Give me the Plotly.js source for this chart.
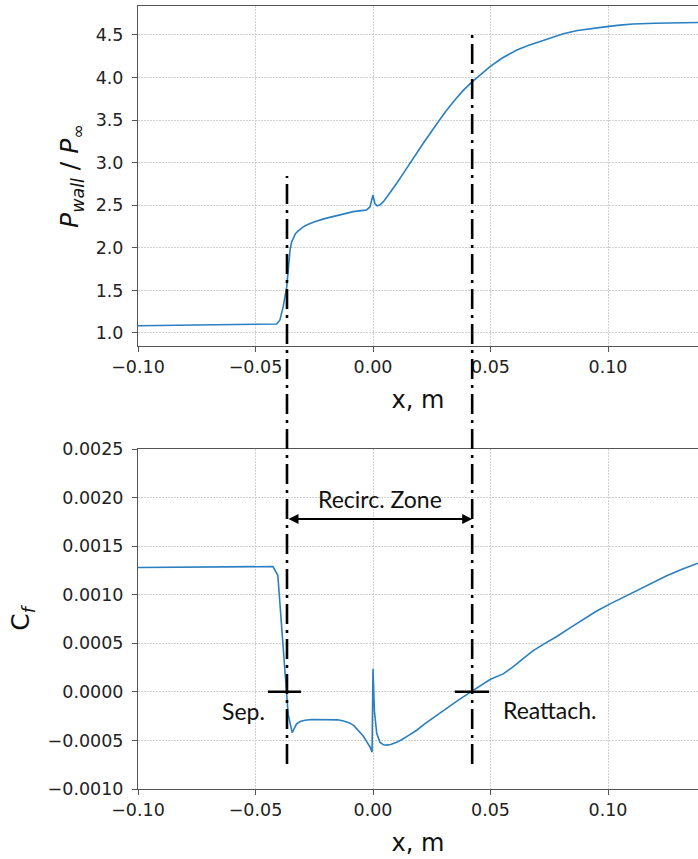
<!DOCTYPE html>
<html>
<head>
<meta charset="utf-8">
<script src="https://cdn.plot.ly/plotly-3.0.1.min.js"></script>
<style>html,body{margin:0;padding:0;background:#fff;}</style>
</head>
<body>
<div id="chart" style="width:698px;height:859px;"></div>
<script>
// ---- data ----
const xP = [-0.100, -0.090, -0.080, -0.070, -0.060, -0.050, -0.044, -0.042, -0.041, -0.0396, -0.0382, -0.0367, -0.0360, -0.0353, -0.0346, -0.0339, -0.0330, -0.0318, -0.0300, -0.0280, -0.0254, -0.0210, -0.0169, -0.0125, -0.0084, -0.0050, -0.0027, -0.0013, 0.0000, 0.0008, 0.0018, 0.0030, 0.0044, 0.0060, 0.0080, 0.0101, 0.0129, 0.0157, 0.0214, 0.0271, 0.0310, 0.0350, 0.0385, 0.0423, 0.0460, 0.0498, 0.0550, 0.0612, 0.0660, 0.0711, 0.0760, 0.0810, 0.0870, 0.0930, 0.0995, 0.1050, 0.1106, 0.1200, 0.1300, 0.1383];
const pRatio = [1.085, 1.088, 1.091, 1.093, 1.095, 1.097, 1.098, 1.100, 1.106, 1.153, 1.310, 1.544, 1.760, 1.975, 2.070, 2.120, 2.165, 2.200, 2.240, 2.270, 2.300, 2.340, 2.370, 2.400, 2.425, 2.437, 2.445, 2.480, 2.620, 2.520, 2.492, 2.505, 2.542, 2.600, 2.675, 2.758, 2.875, 2.993, 3.228, 3.455, 3.605, 3.742, 3.852, 3.952, 4.043, 4.128, 4.229, 4.324, 4.375, 4.421, 4.470, 4.515, 4.552, 4.578, 4.598, 4.615, 4.628, 4.638, 4.643, 4.646];

const xCf = [-0.100, -0.080, -0.060, -0.045, -0.0426, -0.0405, -0.0386, -0.0375, -0.0366, -0.0361, -0.0344, -0.0335, -0.0325, -0.0310, -0.0290, -0.0260, -0.0200, -0.0150, -0.0125, -0.0100, -0.0080, -0.0060, -0.0040, -0.0025, -0.0012, -0.0004, 0.0000, 0.0006, 0.0016, 0.0030, 0.0045, 0.0058, 0.0075, 0.0095, 0.0120, 0.0150, 0.0186, 0.0220, 0.0260, 0.0299, 0.0360, 0.0423, 0.0500, 0.0554, 0.0600, 0.0640, 0.0682, 0.0730, 0.0782, 0.0840, 0.0895, 0.0950, 0.1009, 0.1065, 0.1122, 0.1185, 0.1250, 0.1315, 0.1383];
const cf = [0.001280, 0.001283, 0.001286, 0.001288, 0.001290, 0.001200, 0.000600, 0.000190, 0.000000, -0.000230, -0.000420, -0.000370, -0.000330, -0.000305, -0.000292, -0.000285, -0.000283, -0.000288, -0.000300, -0.000320, -0.000350, -0.000400, -0.000460, -0.000520, -0.000570, -0.000620, 0.000237, -0.000200, -0.000430, -0.000520, -0.000545, -0.000548, -0.000542, -0.000525, -0.000495, -0.000450, -0.000395, -0.000330, -0.000260, -0.000193, -0.000090, 0.000010, 0.000130, 0.000185, 0.000265, 0.000345, 0.000425, 0.000497, 0.000570, 0.000662, 0.000750, 0.000830, 0.000906, 0.000975, 0.001040, 0.001120, 0.001195, 0.001262, 0.001324];

const xSep = -0.0366;     // separation location
const xReat = 0.0422;     // reattachment location
const cfArrow = 0.00178;  // level of recirculation arrow
const xTicksVals = [-0.10, -0.05, 0.00, 0.05, 0.10];

// ---- styles ----
const tickFont = {family: 'DejaVu Sans', size: 17.5, color: '#222'};
const titleFont = {family: 'DejaVu Sans', size: 24, color: '#111'};
const yTitleFont = {family: 'DejaVu Sans', size: 25, color: '#111'};
const noteFont = {family: 'Lato', size: 23, color: '#111'};
const lineBlue = '#2a7fc0';
const gridStyle = {showgrid: true, gridcolor: '#d0d0d0', griddash: '2px,1px', gridwidth: 1};

function xAxis(anchor) {
  return Object.assign({
    domain: [138/698, 1], range: [-0.1, 0.1383], anchor: anchor,
    showline: true, linecolor: '#555', linewidth: 1, mirror: true,
    ticks: 'outside', ticklen: 5, tickcolor: '#555',
    tickvals: xTicksVals, tickformat: '.2f', tickfont: tickFont,
    zeroline: false,
    title: {text: 'x, m', font: titleFont, standoff: 15}
  }, gridStyle);
}
function yAxis(anchor, dom, rng, dt, fmt, title, standoff) {
  return Object.assign({
    domain: dom, range: rng, anchor: anchor,
    showline: true, linecolor: '#555', linewidth: 1,
    ticks: 'outside', ticklen: 5, tickcolor: '#555', ticklabelstandoff: 5,
    dtick: dt, tick0: 0, tickformat: fmt, tickfont: tickFont,
    zeroline: false,
    title: {text: title, font: yTitleFont, standoff: standoff}
  }, gridStyle);
}

const traces = [
  {x: xP, y: pRatio, xaxis: 'x', yaxis: 'y', type: 'scatter', mode: 'lines',
   line: {color: lineBlue, width: 1.6}, hoverinfo: 'skip'},
  {x: xCf, y: cf, xaxis: 'x2', yaxis: 'y2', type: 'scatter', mode: 'lines',
   line: {color: lineBlue, width: 1.6}, hoverinfo: 'skip'}
];

const dashDot = '20px,6px,3px,6px';
const layout = {
  width: 698, height: 859,
  margin: {l: 0, r: 0, t: 0, b: 0},
  paper_bgcolor: '#fff', plot_bgcolor: '#fff',
  showlegend: false,
  xaxis: xAxis('y'),
  yaxis: yAxis('x', [1-346/859, 1-6/859], [0.847, 4.84], 0.5, '.1f',
    '<i>P</i><sub><i>wall</i></sub> / <i>P</i><sub>∞</sub>', 9),
  xaxis2: xAxis('y2'),
  yaxis2: yAxis('x2', [1-789/859, 1-449/859], [-0.001, 0.0025], 0.0005, '.4f',
    'C<sub><i>f</i></sub>', 10),
  shapes: [
    {type: 'line', xref: 'x', yref: 'paper', x0: xSep, x1: xSep, y0: 1-764/859, y1: 1-176/859,
     line: {color: '#000', width: 2.6, dash: dashDot}, layer: 'above'},
    {type: 'line', xref: 'x', yref: 'paper', x0: xReat, x1: xReat, y0: 1-764/859, y1: 1-30/859,
     line: {color: '#000', width: 2.6, dash: dashDot}, layer: 'above'},
    {type: 'line', xref: 'x2', yref: 'y2', x0: xSep - 0.0081, x1: xSep + 0.0060, y0: 0, y1: 0,
     line: {color: '#000', width: 2.5}, layer: 'above'},
    {type: 'line', xref: 'x2', yref: 'y2', x0: xReat - 0.0074, x1: xReat + 0.0072, y0: 0, y1: 0,
     line: {color: '#000', width: 2.5}, layer: 'above'}
  ],
  annotations: [
    {xref: 'x2', yref: 'y2', x: xReat, y: cfArrow, ax: xSep, ay: cfArrow, axref: 'x2', ayref: 'y2',
     text: '', showarrow: true, arrowhead: 2, arrowside: 'end+start', arrowsize: 1,
     arrowwidth: 2, arrowcolor: '#000', standoff: 0, startstandoff: 0},
    {xref: 'x2', yref: 'y2', x: (xSep + xReat) / 2, y: 0.00199, text: 'Recirc. Zone',
     showarrow: false, font: noteFont, xanchor: 'center', yanchor: 'middle'},
    {xref: 'x2', yref: 'y2', x: -0.0553, y: -0.000192, text: 'Sep.',
     showarrow: false, font: noteFont, xanchor: 'center', yanchor: 'middle'},
    {xref: 'x2', yref: 'y2', x: 0.0749, y: -0.000182, text: 'Reattach.',
     showarrow: false, font: noteFont, xanchor: 'center', yanchor: 'middle'}
  ]
};

Plotly.newPlot('chart', traces, layout, {displayModeBar: false, staticPlot: true});
</script>
</body>
</html>
